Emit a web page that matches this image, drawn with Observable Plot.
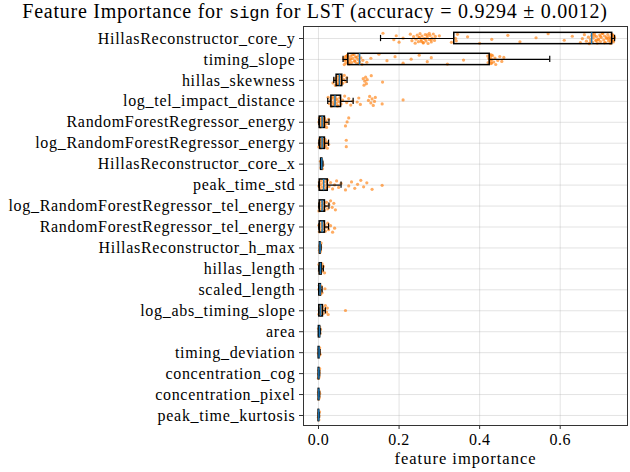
<!DOCTYPE html>
<html>
<head>
<meta charset="utf-8">
<script src="https://cdn.jsdelivr.net/npm/d3@7"></script>
<script src="https://cdn.jsdelivr.net/npm/@observablehq/plot@0.6"></script>
<style>
  body { margin: 0; background: #fff; }
  #title { width: 630px; height: 22px; text-align: center; font-family: "Liberation Serif", serif; font-size: 20px; letter-spacing: 0.75px; line-height: 22px; color: #000; white-space: nowrap; }
  #title code { font-family: "Liberation Mono", monospace; font-size: 17px; letter-spacing: 0; }
  svg { display: block; }
  g[aria-label="y-axis tick label"] text { letter-spacing: 0.7px; }
  g[aria-label="x-axis tick label"] text { letter-spacing: 0.5px; }
  g[aria-label="text"] text { letter-spacing: 1px; }
</style>
</head>
<body>
<div id="title">Feature Importance for <code>sign</code> for LST (accuracy = 0.9294 ± 0.0012)</div>
<div id="chart"></div>
<script>
const features = [
  "HillasReconstructor_core_y", "timing_slope", "hillas_skewness", "log_tel_impact_distance",
  "RandomForestRegressor_energy", "log_RandomForestRegressor_energy", "HillasReconstructor_core_x",
  "peak_time_std", "log_RandomForestRegressor_tel_energy", "RandomForestRegressor_tel_energy",
  "HillasReconstructor_h_max", "hillas_length", "scaled_length", "log_abs_timing_slope", "area",
  "timing_deviation", "concentration_cog", "concentration_pixel", "peak_time_kurtosis"
];
const whiskerLow  = [0.154, 0.061, 0.038, 0.023, 0.001, 0.001, 0.005, 0.001, 0.001, 0.001, 0.0025, 0.001, 0.001, 0.001, 0.000, 0.000, 0.000, 0.000, 0.000];
const quartile1   = [0.337, 0.074, 0.045, 0.032, 0.003, 0.004, 0.0065, 0.003, 0.003, 0.003, 0.0035, 0.003, 0.002, 0.002, 0.001, 0.0005, 0.0005, 0.0005, 0.0003];
const median      = [0.678, 0.102, 0.052, 0.041, 0.009, 0.009, 0.008, 0.013, 0.009, 0.009, 0.004, 0.005, 0.004, 0.005, 0.0025, 0.0015, 0.001, 0.001, 0.0008];
const quartile3   = [0.729, 0.425, 0.059, 0.056, 0.016, 0.016, 0.0095, 0.023, 0.016, 0.016, 0.005, 0.008, 0.006, 0.011, 0.004, 0.0025, 0.002, 0.002, 0.0015];
const whiskerHigh = [0.735, 0.574, 0.071, 0.086, 0.026, 0.025, 0.011, 0.056, 0.026, 0.025, 0.0065, 0.012, 0.009, 0.017, 0.005, 0.004, 0.003, 0.003, 0.0025];

const foldValues = [
  [0.16,0.187,0.193,0.20,0.21,0.228,0.232,0.236,0.24,0.242,0.245,0.248,0.25,0.252,0.255,0.257,0.26,0.262,0.265,0.267,0.27,0.272,0.275,0.277,0.28,0.282,0.285,0.288,0.29,0.26,0.265,0.27,0.255,0.25,0.275,0.28,0.30,0.33,0.34,0.345,0.342,
   0.37,0.40,0.43,0.47,0.50,0.54,0.57,0.61,0.63,0.65,
   0.655,0.66,0.665,0.67,0.672,0.675,0.678,0.68,0.682,0.685,0.688,0.69,0.692,0.695,0.698,0.70,0.702,0.705,0.708,0.71,0.712,0.715,0.718,0.72,0.722,0.725,0.727,0.73,0.732,0.735,
   0.68,0.69,0.70,0.71,0.72,0.73,0.725,0.715,0.705,0.695,0.685,0.675,0.726,0.728,0.731,0.733],
  [0.062,0.064,0.065,0.067,0.068,0.07,0.072,0.073,0.074,0.076,0.078,0.08,0.082,0.085,0.088,0.09,0.092,0.095,0.098,0.10,0.102,0.105,0.108,0.11,0.07,0.075,0.08,0.085,0.09,0.095,0.10,0.066,0.071,
   0.12,0.13,0.15,0.17,0.19,0.21,0.23,0.25,0.27,0.28,0.32,0.36,
   0.42,0.421,0.423,0.425,0.426,0.427,0.428,0.43,0.432,0.435,0.438,0.44,0.445,0.45,0.43,0.424,0.429,0.455,0.46],
  [0.036,0.04,0.042,0.044,0.046,0.048,0.05,0.05,0.052,0.054,0.055,0.056,0.058,0.06,0.062,0.064,0.068,0.07,0.047,0.051,0.053,0.057,0.111,0.113,0.115,0.117,0.119,0.121,0.131,0.159],
  [0.024,0.027,0.03,0.032,0.034,0.036,0.038,0.04,0.042,0.044,0.046,0.048,0.05,0.053,0.056,0.06,0.065,0.07,0.075,0.08,0.085,0.035,0.039,0.043,0.047,0.096,0.1,0.104,0.124,0.127,0.13,0.133,0.136,0.139,0.141,0.158,0.21],
  [0.001,0.002,0.003,0.004,0.005,0.006,0.007,0.008,0.009,0.01,0.011,0.012,0.013,0.014,0.015,0.016,0.018,0.02,0.022,0.025,0.067,0.071,0.075],
  [0.001,0.002,0.003,0.004,0.005,0.006,0.007,0.008,0.009,0.01,0.011,0.012,0.013,0.014,0.015,0.016,0.018,0.02,0.022,0.025,0.069,0.069],
  [0.005,0.006,0.007,0.008,0.008,0.009,0.01,0.011],
  [0.001,0.002,0.003,0.005,0.007,0.009,0.011,0.013,0.015,0.017,0.019,0.021,0.023,0.026,0.03,0.035,0.04,0.045,0.05,0.056,0.067,0.075,0.082,0.09,0.097,0.105,0.112,0.12,0.133,0.158],
  [0.001,0.002,0.003,0.005,0.007,0.009,0.011,0.013,0.015,0.017,0.02,0.023,0.026,0.03,0.034,0.038,0.042],
  [0.001,0.002,0.003,0.005,0.007,0.009,0.011,0.013,0.015,0.017,0.02,0.023,0.025,0.03,0.035,0.04],
  [0.0025,0.003,0.0035,0.004,0.0045,0.005,0.0055,0.0065],
  [0.001,0.002,0.003,0.004,0.005,0.006,0.007,0.008,0.009,0.01,0.012,0.015],
  [0.001,0.002,0.003,0.004,0.005,0.006,0.007,0.009,0.016],
  [0.001,0.002,0.003,0.004,0.005,0.006,0.008,0.01,0.012,0.015,0.017,0.02,0.022,0.024,0.067],
  [0.0,0.001,0.002,0.003,0.004,0.005],
  [0.0,0.001,0.0015,0.002,0.003,0.004],
  [0.0,0.0005,0.001,0.0015,0.002,0.003],
  [0.0,0.0005,0.001,0.0015,0.002,0.003],
  [0.0,0.0005,0.001,0.0015,0.0025]
];
const xTicks = [0.0, 0.2, 0.4, 0.6];

// build tables
const boxes = features.map((f, i) => ({i, lo: whiskerLow[i], q1: quartile1[i], med: median[i], q3: quartile3[i], hi: whiskerHigh[i]}));
const points = [];
foldValues.forEach((vals, k) => vals.forEach((v, j) => {
  const jit = (((j * 0.618034 + k * 0.371) % 1) - 0.5) * 0.5;
  points.push({x: v, y: k + jit});
}));

const bh = 0.27, ch = 0.15;
const font = "Liberation Serif, serif";

const chart = Plot.plot({
  width: 630,
  height: 450,
  marginTop: 4,
  marginBottom: 47,
  marginLeft: 303,
  marginRight: 3,
  style: {fontFamily: font, fontSize: "16px", color: "#000", background: "#fff"},
  x: {domain: [-0.0372, 0.767]},
  y: {domain: [18.478, -0.573]},
  marks: [
    Plot.gridX(xTicks, {stroke: "#b0b0b0", strokeOpacity: 0.35, strokeWidth: 1}),
    Plot.gridY(d3.range(features.length), {stroke: "#b0b0b0", strokeOpacity: 0.35, strokeWidth: 1}),
    Plot.dot(points, {x: "x", y: "y", r: 1.6, fill: "#ff7f0e", fillOpacity: 0.65, stroke: "none"}),
    // whiskers
    Plot.ruleY(boxes, {x1: "lo", x2: "q1", y: "i", stroke: "#000", strokeWidth: 1.2}),
    Plot.ruleY(boxes, {x1: "q3", x2: "hi", y: "i", stroke: "#000", strokeWidth: 1.2}),
    Plot.ruleX(boxes, {x: "lo", y1: d => d.i - ch, y2: d => d.i + ch, stroke: "#000", strokeWidth: 1.2}),
    Plot.ruleX(boxes, {x: "hi", y1: d => d.i - ch, y2: d => d.i + ch, stroke: "#000", strokeWidth: 1.2}),
    // box
    Plot.rect(boxes, {x1: "q1", x2: "q3", y1: d => d.i - bh, y2: d => d.i + bh, fill: "none", stroke: "#000", strokeWidth: 1.5}),
    Plot.ruleX(boxes, {x: "med", y1: d => d.i - bh, y2: d => d.i + bh, stroke: "#1f77b4", strokeWidth: 1.5}),
    Plot.frame({stroke: "#333", strokeWidth: 1}),
    Plot.axisY(d3.range(features.length), {tickFormat: i => features[i], tickSize: 4, tickPadding: 4, fontSize: 16, stroke: "#333", label: null}),
    Plot.axisX(xTicks, {tickFormat: d3.format(".1f"), tickSize: 4, tickPadding: 4, fontSize: 16, stroke: "#333", label: null}),
    Plot.text(["feature importance"], {frameAnchor: "bottom", dy: 38, fontSize: 16.5, fill: "#000"})
  ]
});
document.getElementById("chart").appendChild(chart);
</script>
</body>
</html>
